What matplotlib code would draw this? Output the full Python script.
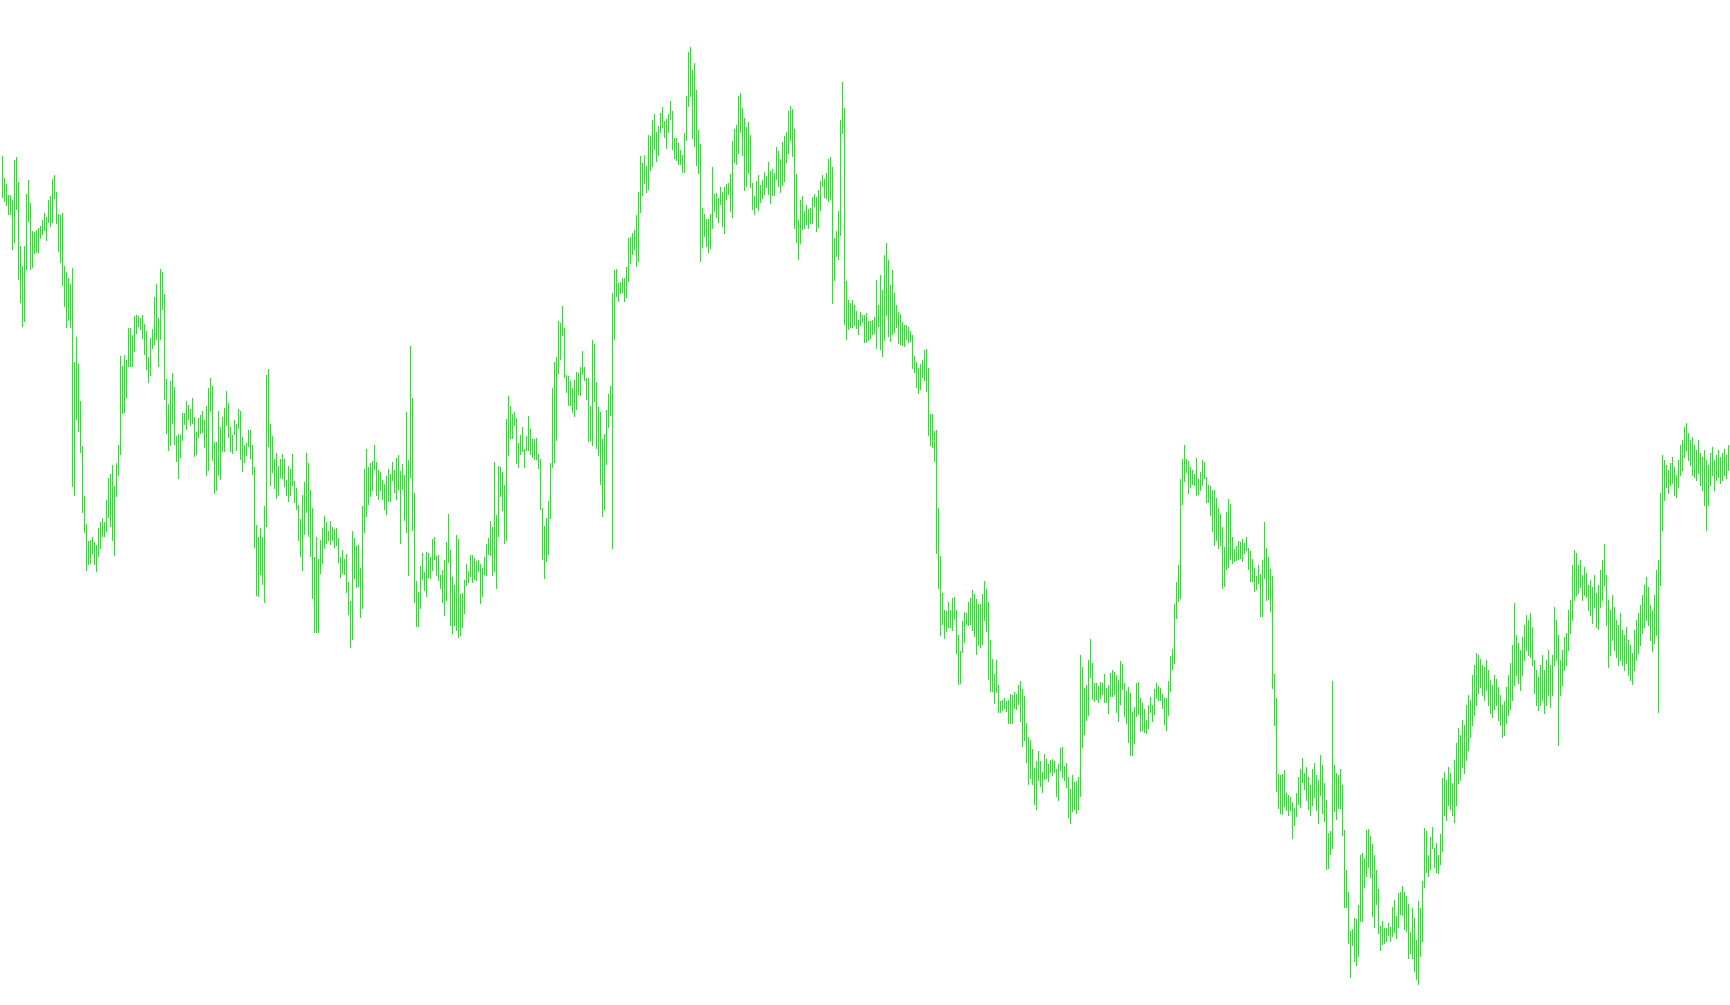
import matplotlib
matplotlib.use("Agg")
import matplotlib.pyplot as plt
import numpy as np

# bar highs / lows (one entry per bar, left to right)
highs = [
    # 0-71
    849, 827, 821, 810, 810, 805, 845, 848, 823, 759, 739, 759, 811, 825, 802, 774, 773, 775, 777, 779,
    785, 792, 788, 805, 809, 826, 830, 813, 791, 790, 792, 739, 733, 727, 721, 737, 643, 668, 641, 604,
    559, 509, 481, 464, 465, 468, 463, 460, 477, 483, 487, 483, 505, 527, 531, 540, 519, 542, 560, 649,
    639, 650, 645, 677, 677, 670, 689, 690, 689, 687, 690, 681,
    # 72-144
    674, 648, 667, 676, 708, 721, 687, 736, 733, 711, 626, 601, 624, 632, 618, 569, 571, 570, 592, 592,
    604, 600, 596, 607, 588, 573, 587, 590, 594, 585, 599, 617, 627, 619, 563, 563, 594, 578, 588, 597,
    614, 602, 578, 570, 585, 581, 596, 594, 568, 560, 562, 575, 575, 560, 538, 480, 468, 477, 468, 499,
    630, 636, 581, 569, 546, 552, 539, 546, 551, 546, 525, 539, 536,
    # 145-216
    551, 524, 517, 500, 486, 510, 523, 552, 542, 515, 497, 448, 468, 446, 465, 477, 489, 483, 474, 484,
    478, 476, 477, 467, 448, 455, 446, 451, 423, 404, 474, 467, 459, 460, 437, 499, 536, 556, 538, 542,
    544, 560, 543, 535, 533, 525, 521, 529, 536, 531, 543, 535, 547, 550, 534, 541, 530, 593, 545, 659,
    607, 512, 424, 413, 439, 452, 433, 453, 452, 448, 466, 468,
    # 217-289
    449, 450, 430, 435, 445, 463, 491, 455, 428, 420, 470, 466, 411, 412, 425, 441, 434, 450, 450, 447,
    444, 445, 441, 437, 448, 461, 467, 484, 478, 543, 490, 539, 538, 533, 520, 586, 609, 599, 591, 593,
    587, 562, 570, 578, 556, 569, 589, 576, 566, 566, 567, 551, 546, 497, 479, 487, 504, 542, 617, 643,
    648, 684, 682, 699, 677, 630, 629, 624, 617, 625, 633, 632, 638,
    # 290-361
    654, 638, 627, 627, 599, 665, 661, 623, 598, 593, 566, 571, 595, 611, 619, 712, 735, 736, 722, 723,
    727, 727, 738, 767, 768, 772, 775, 790, 813, 849, 842, 850, 839, 870, 869, 885, 891, 873, 879, 892,
    898, 884, 886, 891, 904, 894, 867, 867, 862, 855, 850, 872, 909, 953, 958, 935, 942, 915, 875, 861,
    797, 791, 786, 786, 791, 838, 811, 812, 807, 818, 813, 818,
    # 362-434
    821, 822, 831, 864, 876, 880, 909, 912, 897, 887, 878, 883, 870, 822, 809, 824, 830, 820, 825, 833,
    829, 843, 834, 836, 832, 858, 854, 846, 863, 869, 873, 894, 899, 896, 876, 831, 785, 805, 809, 794,
    800, 796, 797, 808, 811, 808, 815, 824, 830, 826, 832, 846, 848, 838, 767, 774, 794, 885, 923, 897,
    724, 705, 702, 705, 700, 694, 685, 693, 690, 690, 692, 684, 684,
    # 435-506
    685, 688, 725, 700, 730, 715, 750, 762, 745, 720, 735, 712, 700, 693, 691, 683, 680, 680, 678, 674,
    670, 649, 643, 637, 641, 645, 655, 656, 637, 591, 591, 574, 575, 497, 449, 412, 395, 394, 403, 395,
    407, 408, 395, 370, 354, 384, 393, 392, 403, 407, 415, 411, 406, 401, 401, 411, 424, 416, 403, 365,
    346, 331, 345, 320, 304, 305, 307, 304, 305, 311, 310, 313,
    # 507-579
    311, 320, 324, 316, 309, 282, 268, 265, 256, 237, 244, 254, 244, 233, 251, 246, 241, 245, 246, 244,
    236, 241, 257, 258, 239, 242, 228, 216, 230, 223, 224, 228, 350, 338, 317, 320, 345, 366, 342, 322,
    322, 319, 323, 322, 331, 317, 320, 332, 335, 333, 330, 325, 344, 341, 322, 314, 318, 312, 293, 298,
    322, 323, 307, 302, 296, 285, 300, 308, 300, 316, 322, 319, 317,
    # 580-651
    311, 307, 307, 324, 349, 356, 401, 423, 440, 526, 546, 560, 546, 544, 538, 535, 531, 547, 526, 533,
    545, 543, 528, 520, 519, 515, 515, 507, 497, 491, 478, 458, 493, 506, 501, 468, 456, 459, 464, 463,
    466, 462, 468, 457, 454, 446, 437, 429, 440, 431, 445, 483, 457, 448, 436, 429, 331, 307, 231, 230,
    231, 235, 212, 210, 208, 203, 197, 212, 228, 236, 247, 232,
    # 652-719
    238, 228, 220, 236, 242, 230, 225, 250, 240, 222, 205, 172, 174, 324, 240, 232, 230, 236, 220, 175,
    135, 113, 74, 76, 87, 86, 100, 150, 152, 147, 175, 176, 169, 161, 150, 135, 116, 79, 84, 77,
    77, 82, 78, 98, 105, 89, 112, 113, 119, 113, 109, 101, 73, 97, 87, 65, 104, 97, 124, 177,
    174, 150, 168, 178, 157, 162, 150, 171,
    # 720-863
    227, 233, 225, 238, 232, 222, 245, 262, 277, 270, 285, 280, 300, 310, 305, 330, 340, 352, 350, 346,
    340, 338, 345, 335, 325, 320, 330, 326, 318, 310, 300, 304, 318, 330, 342, 360, 402, 370, 362, 355,
    368, 380, 390, 385, 392, 378, 345, 335, 328, 340, 350, 335, 345, 355, 340, 350, 398, 385, 370, 345,
    355, 368, 372, 395, 405, 440, 455, 452, 440, 445, 430, 438, 432, 420, 425, 418, 430, 412, 420, 435,
    445, 461, 430, 405, 395, 410, 398, 385, 380, 392, 375, 370, 378, 365, 360, 352, 375, 385, 392, 400,
    410, 420, 428, 418, 400, 395, 410, 435, 445, 512, 550, 545, 540, 535, 542, 548, 538, 530, 545, 560,
    565, 578, 582, 572, 565, 568, 560, 555, 565, 552, 548, 555, 545, 540, 552, 558, 545, 550, 555, 548,
    552, 556, 550, 560,
]

lows = [
    # 0-71
    808, 804, 800, 791, 791, 756, 763, 796, 726, 703, 679, 684, 736, 784, 736, 738, 752, 753, 753, 767,
    771, 775, 765, 783, 779, 783, 807, 782, 754, 743, 720, 699, 678, 685, 678, 519, 510, 586, 574, 553,
    493, 473, 435, 441, 442, 452, 441, 434, 449, 457, 469, 469, 474, 488, 479, 465, 450, 509, 530, 551,
    592, 593, 608, 639, 639, 639, 654, 672, 679, 676, 667, 651,
    # 72-144
    636, 623, 630, 657, 661, 666, 639, 666, 696, 606, 572, 555, 560, 582, 561, 544, 527, 548, 565, 581,
    576, 586, 580, 582, 549, 551, 568, 572, 573, 558, 530, 535, 594, 545, 512, 515, 530, 526, 554, 554,
    580, 568, 554, 552, 571, 555, 577, 546, 534, 543, 550, 559, 547, 531, 458, 410, 409, 431, 421, 403,
    479, 559, 520, 533, 517, 507, 510, 528, 527, 519, 510, 504, 510,
    # 145-216
    520, 503, 496, 465, 449, 435, 471, 493, 469, 449, 407, 373, 373, 373, 432, 442, 457, 462, 465, 461,
    465, 458, 460, 443, 428, 432, 431, 413, 391, 358, 366, 427, 418, 419, 388, 397, 473, 489, 501, 509,
    515, 536, 510, 506, 515, 506, 496, 491, 504, 504, 525, 513, 506, 516, 462, 516, 485, 473, 430, 528,
    475, 403, 379, 379, 397, 426, 415, 409, 428, 427, 435, 446,
    # 217-289
    430, 425, 417, 403, 390, 405, 443, 380, 372, 380, 375, 368, 370, 378, 392, 420, 423, 429, 423, 426,
    425, 434, 402, 409, 431, 430, 451, 450, 430, 434, 417, 469, 509, 495, 462, 465, 550, 567, 567, 580,
    542, 538, 551, 554, 538, 555, 555, 551, 548, 546, 546, 537, 496, 446, 427, 444, 451, 487, 538, 543,
    565, 632, 646, 670, 628, 613, 600, 600, 593, 589, 596, 611, 610,
    # 290-361
    631, 625, 606, 564, 565, 560, 604, 557, 550, 521, 489, 496, 541, 578, 590, 457, 666, 709, 704, 712,
    713, 704, 708, 724, 742, 751, 756, 739, 744, 793, 810, 822, 813, 816, 835, 839, 856, 844, 850, 873,
    878, 868, 857, 873, 886, 856, 847, 845, 841, 841, 833, 833, 865, 899, 909, 867, 859, 840, 832, 744,
    758, 769, 759, 753, 757, 777, 794, 788, 783, 801, 779, 772,
    # 362-434
    806, 811, 794, 788, 843, 841, 852, 873, 850, 815, 819, 832, 818, 796, 791, 798, 795, 803, 807, 811,
    818, 811, 802, 810, 810, 826, 819, 813, 820, 824, 843, 852, 865, 849, 777, 763, 746, 762, 776, 777,
    781, 777, 782, 782, 799, 774, 778, 795, 819, 808, 807, 804, 806, 702, 725, 749, 746, 770, 872, 681,
    666, 676, 678, 678, 680, 677, 671, 680, 683, 663, 663, 665, 667,
    # 435-506
    671, 672, 657, 679, 656, 649, 665, 690, 669, 664, 671, 673, 678, 662, 661, 660, 659, 666, 663, 664,
    637, 633, 618, 612, 616, 628, 625, 614, 570, 560, 558, 544, 452, 417, 370, 381, 367, 374, 378, 378,
    375, 386, 352, 321, 322, 353, 363, 381, 380, 381, 375, 369, 351, 360, 358, 361, 385, 374, 326, 314,
    314, 302, 313, 293, 293, 295, 297, 294, 282, 282, 282, 297,
    # 507-579
    296, 301, 284, 259, 265, 243, 221, 227, 221, 201, 196, 225, 219, 213, 226, 227, 224, 233, 230, 233,
    209, 205, 235, 228, 225, 218, 188, 182, 194, 196, 192, 196, 209, 258, 271, 285, 290, 328, 306, 304,
    306, 303, 307, 311, 303, 303, 292, 309, 309, 311, 293, 284, 301, 316, 289, 282, 263, 250, 250, 262,
    289, 291, 274, 275, 273, 272, 277, 293, 284, 291, 307, 305, 305,
    # 580-651
    297, 281, 275, 290, 314, 336, 342, 387, 404, 407, 501, 524, 533, 512, 518, 521, 520, 510, 511, 515,
    520, 527, 503, 503, 490, 474, 460, 465, 457, 460, 417, 419, 436, 438, 446, 442, 444, 445, 446, 447,
    444, 452, 455, 436, 424, 424, 414, 416, 422, 389, 389, 427, 405, 406, 394, 317, 280, 214, 197, 192,
    191, 199, 195, 190, 195, 167, 180, 189, 201, 198, 223, 216,
    # 652-719
    205, 196, 190, 200, 208, 195, 182, 210, 192, 184, 136, 137, 151, 157, 194, 186, 197, 197, 170, 98,
    98, 62, 28, 60, 44, 40, 49, 84, 84, 118, 129, 138, 128, 89, 78, 101, 72, 55, 61, 62,
    64, 70, 64, 69, 73, 67, 78, 91, 90, 76, 74, 47, 52, 47, 34, 26, 21, 49, 64, 118,
    133, 129, 136, 157, 138, 133, 132, 141,
    # 720-863
    154, 190, 185, 200, 196, 190, 183, 200, 222, 225, 238, 232, 245, 255, 268, 280, 290, 300, 312, 318,
    310, 305, 315, 300, 292, 288, 296, 300, 285, 280, 268, 270, 282, 290, 296, 305, 320, 330, 322, 315,
    330, 345, 355, 350, 348, 340, 312, 300, 295, 300, 305, 292, 300, 310, 298, 310, 340, 345, 260, 310,
    320, 335, 340, 355, 372, 385, 405, 410, 412, 418, 405, 410, 408, 395, 390, 382, 398, 378, 376, 398,
    405, 420, 380, 338, 350, 365, 355, 348, 340, 345, 340, 335, 342, 330, 325, 321, 335, 345, 352, 360,
    372, 378, 385, 380, 365, 354, 362, 370, 293, 420, 475, 505, 518, 512, 520, 522, 510, 508, 518, 530,
    535, 548, 555, 545, 540, 530, 528, 525, 532, 520, 515, 500, 475, 500, 520, 530, 515, 525, 528, 522,
    525, 530, 527, 535,
]

n = min(len(highs), len(lows))
x = np.arange(n)

fig = plt.figure(figsize=(17.3, 10.05), dpi=100)
ax = fig.add_axes([0, 0, 1, 1])
ax.vlines(x, lows[:n], highs[:n], colors="#00ff00", linewidth=0.72, antialiased=False)
ax.set_xlim(-0.75, n + 0.25)
ax.set_ylim(0, 1005)
ax.axis("off")

fig.savefig("out.png", dpi=100, facecolor="white")
